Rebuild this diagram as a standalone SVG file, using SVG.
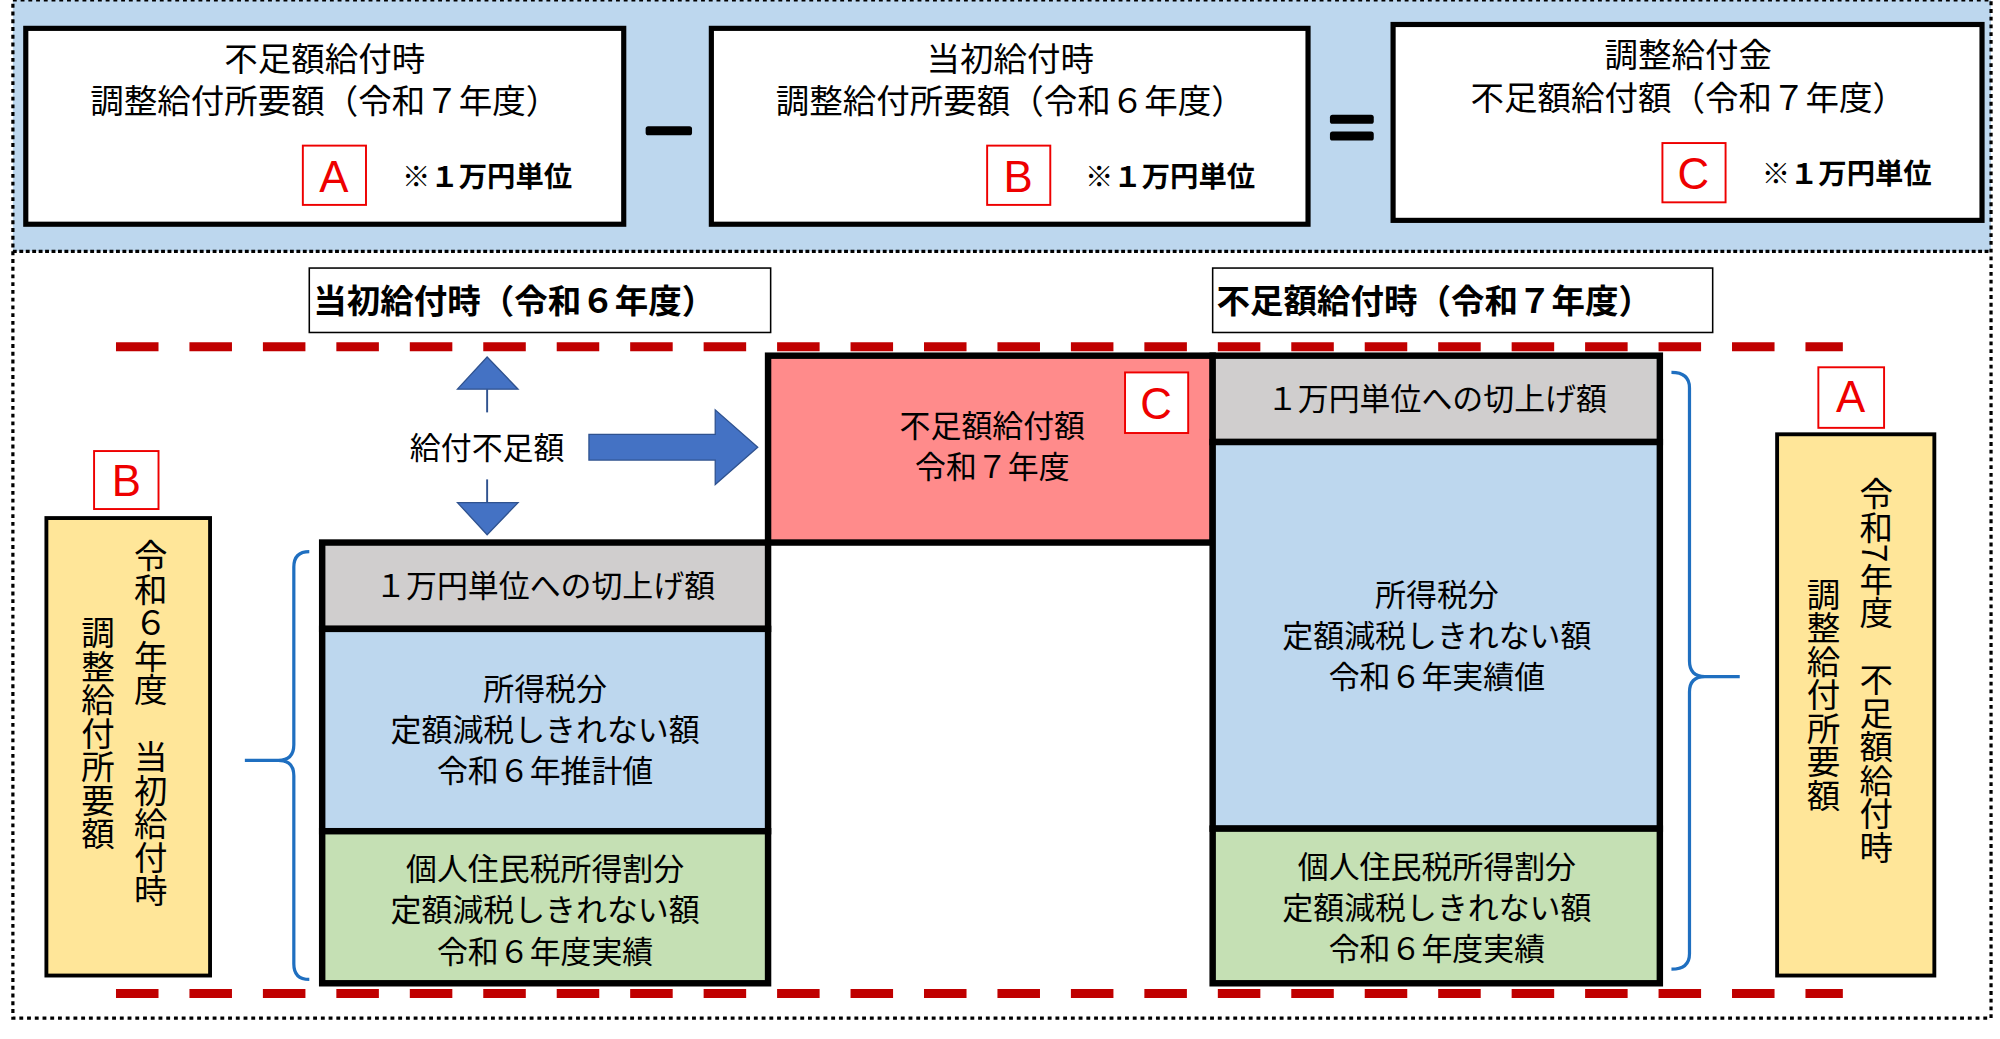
<svg xmlns="http://www.w3.org/2000/svg" width="2000" height="1039" viewBox="0 0 2000 1039">
<style>
text{font-family:"Noto Sans CJK JP","Noto Sans",sans-serif;fill:#000}
.box{fill:#fff;stroke:#000;stroke-width:4}
.lbl{fill:#fff;stroke:#e00;stroke-width:1.5}
.lt{fill:#e00;font-family:"Liberation Sans",sans-serif;font-size:34px}
.t{font-size:24px}
.tt{font-size:26px}
.c{text-anchor:middle}
.blk{stroke:#000;stroke-width:5}
.v{writing-mode:vertical-rl;font-size:26px}
.brace{fill:none;stroke:#1f6fc0;stroke-width:2.5}
.red{stroke:#c00000;stroke-width:7;stroke-dasharray:33,24}
</style>
<g transform="scale(1.2887)">
<rect x="10" y="0" width="1535" height="195" fill="#bdd7ee"/>
<rect x="10" y="0" width="1535" height="790" fill="none" stroke="#000" stroke-width="2.5" stroke-dasharray="3,3"/>
<line x1="10" y1="195" x2="1545" y2="195" stroke="#000" stroke-width="2.5" stroke-dasharray="3,2"/>

<g id="boxA"><rect class="box" x="20" y="22" width="464" height="152"/>
<text class="tt c" x="252" y="55">不足額給付時</text><text class="tt c" x="252" y="88">調整給付所要額（令和７年度）</text>
<rect class="lbl" x="235" y="113" width="49" height="46"/><text class="lt c" x="259" y="149">A</text>
<text x="312" y="145" font-size="22" font-weight="bold">※１万円単位</text></g>
<g id="boxB"><rect class="box" x="552" y="22" width="463" height="152"/>
<text class="tt c" x="784" y="55">当初給付時</text><text class="tt c" x="784" y="88">調整給付所要額（令和６年度）</text>
<rect class="lbl" x="766" y="113" width="49" height="46"/><text class="lt c" x="790" y="149">B</text>
<text x="842" y="145" font-size="22" font-weight="bold">※１万円単位</text></g>
<g id="boxC"><rect class="box" x="1081" y="19" width="457" height="152"/>
<text class="tt c" x="1310" y="52">調整給付金</text><text class="tt c" x="1310" y="85">不足額給付額（令和７年度）</text>
<rect class="lbl" x="1290" y="111" width="49" height="46"/><text class="lt c" x="1314" y="147">C</text>
<text x="1367" y="143" font-size="22" font-weight="bold">※１万円単位</text></g>
<g id="ops"><rect x="501" y="98" width="36" height="7" rx="2"/><rect x="1032" y="89" width="34" height="7" rx="2"/><rect x="1032" y="102" width="34" height="7" rx="2"/></g>

<g id="title1"><rect x="240" y="208" width="358" height="50" fill="#fff" stroke="#000" stroke-width="1.2"/><text x="243" y="243" font-size="26" font-weight="bold">当初給付時（令和６年度）</text></g>
<g id="title2"><rect x="941" y="208" width="388" height="50" fill="#fff" stroke="#000" stroke-width="1.2"/><text x="944" y="243" font-size="26" font-weight="bold">不足額給付時（令和７年度）</text></g>

<g id="leftStack">
<rect class="blk" x="250" y="421" width="346" height="67" fill="#d0cece"/>
<text class="t c" x="423" y="463">１万円単位への切上げ額</text>
<rect class="blk" x="250" y="488" width="346" height="157" fill="#bdd7ee"/>
<text class="t c" x="423" y="543">所得税分</text><text class="t c" x="423" y="575">定額減税しきれない額</text><text class="t c" x="423" y="607">令和６年推計値</text>
<rect class="blk" x="250" y="645" width="346" height="118" fill="#c5e0b4"/>
<text class="t c" x="423" y="683">個人住民税所得割分</text><text class="t c" x="423" y="715">定額減税しきれない額</text><text class="t c" x="423" y="747">令和６年度実績</text>
</g>
<g id="pinkC"><rect class="blk" x="596" y="276" width="345" height="145" fill="#ff8b8b"/>
<text class="t c" x="770" y="339">不足額給付額</text><text class="t c" x="770" y="371">令和７年度</text>
<rect class="lbl" x="873" y="289" width="49" height="47"/><text class="lt c" x="897" y="325">C</text></g>
<g id="rightStack">
<rect class="blk" x="941" y="276" width="347" height="67" fill="#d0cece"/>
<text class="t c" x="1115" y="318">１万円単位への切上げ額</text>
<rect class="blk" x="941" y="343" width="347" height="300" fill="#bdd7ee"/>
<text class="t c" x="1115" y="470">所得税分</text><text class="t c" x="1115" y="502">定額減税しきれない額</text><text class="t c" x="1115" y="534">令和６年実績値</text>
<rect class="blk" x="941" y="643" width="347" height="120" fill="#c5e0b4"/>
<text class="t c" x="1115" y="681">個人住民税所得割分</text><text class="t c" x="1115" y="713">定額減税しきれない額</text><text class="t c" x="1115" y="745">令和６年度実績</text>
</g>

<g id="leftYellow"><rect x="36" y="402" width="127" height="355" fill="#ffe699" stroke="#000" stroke-width="3"/>
<text class="v" x="117" y="418">令和６年度　当初給付時</text>
<text class="v" x="76" y="478">調整給付所要額</text>
<rect class="lbl" x="73" y="350" width="50" height="45"/><text class="lt c" x="98" y="385">B</text></g>
<g id="rightYellow"><rect x="1379" y="337" width="122" height="420" fill="#ffe699" stroke="#000" stroke-width="3"/>
<text class="v" x="1456" y="370">令和7年度　不足額給付時</text>
<text class="v" x="1415" y="448">調整給付所要額</text>
<rect class="lbl" x="1411" y="285" width="51" height="47"/><text class="lt c" x="1436" y="320">A</text></g>

<g id="connectors">
<line class="red" x1="90" y1="269" x2="1430" y2="269"/>
<line class="red" x1="90" y1="771" x2="1430" y2="771"/>
<path class="brace" d="M240,428 Q228,428 228,440 V578 Q228,590 216,590 H190 M216,590 Q228,590 228,602 V748 Q228,760 240,760"/>
<path class="brace" d="M1297,289 Q1311,289 1311,301 V513 Q1311,525 1323,525 H1350 M1323,525 Q1311,525 1311,537 V740 Q1311,752 1297,752"/>
<g fill="#4472c4" stroke="#2f528f" stroke-width="1">
<polygon points="378,277 402,302 355,302"/>
<polygon points="355,390 402,390 378,415"/>
<polygon points="457,337 555,337 555,318 588,347 555,376 555,357 457,357"/>
</g>
<line x1="378" y1="302" x2="378" y2="320" stroke="#2f528f" stroke-width="1.5"/>
<line x1="378" y1="372" x2="378" y2="390" stroke="#2f528f" stroke-width="1.5"/>
<text class="t c" x="378" y="356">給付不足額</text>
</g>
</g>
</svg>
